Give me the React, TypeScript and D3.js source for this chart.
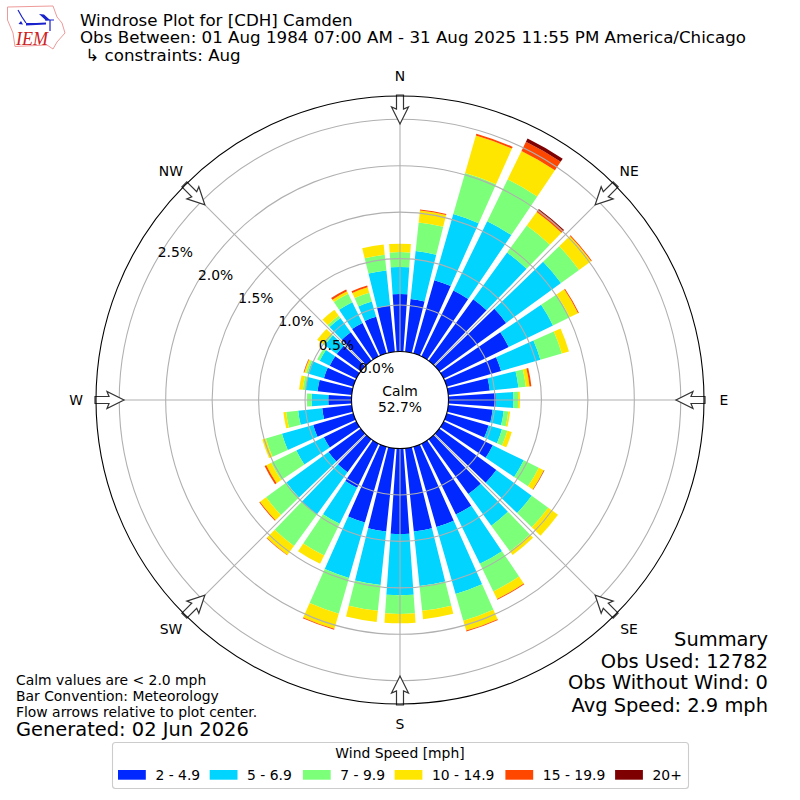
import * as React from 'react';
import * as d3 from 'd3';

const directions = d3.range(0, 360, 10);
// percent of observations per direction, 0..350 deg
const speed2to5 = [.62, .57, .82, .79, .82, .89, .78, .61, .45, .51, .48, .47, .59, .76, .73, .85, .90, .90, .92, .90, .85, .53, .44, .43, .39, .45, .32, .25, .37, .33, .32, .32, .38, .40, .41, .50];
const speed5to7 = [.29, .52, .74, .83, .62, .73, .53, .44, .31, .19, .12, .15, .37, .47, .42, .59, .75, .59, .66, .58, .62, .43, .56, .56, .33, .35, .26, .18, .13, .18, .12, .16, .19, .25, .17, .38];
const speed7to10 = [.16, .31, .46, .50, .36, .24, .20, .24, .08, .05, .05, .06, .18, .22, .34, .33, .30, .27, .20, .28, .40, .38, .42, .27, .30, .18, .13, .05, .03, .02, .03, .02, .03, .10, .10, .17];
const speed10to15 = [.09, .13, .42, .34, .18, .16, .10, .08, .04, .02, .02, .05, .06, .13, .05, .09, .11, .09, .10, .12, .17, .10, .12, .08, .06, .04, .03, 0, .04, .02, 0, .08, .08, .03, .06, .11];
const speed15to20 = [0, .01, .02, .11, .03, .01, .01, 0, .02, 0, 0, 0, .005, 0, 0, .01, .01, 0, 0, 0, .01, 0, .005, .01, .02, 0, 0, 0, 0, .005, 0, 0, 0, .02, .02, 0];
const speed20up = [0, 0, 0, .04, .01, 0, 0, 0, 0, 0, 0, 0, .002, 0, 0, 0, 0, 0, 0, 0, 0, 0, 0, 0, 0, 0, 0, 0, 0, .002, 0, 0, 0, .002, 0, 0];

const speedSeries = [speed2to5, speed5to7, speed7to10, speed10to15, speed15to20, speed20up];
const speedLabels = ['2 - 4.9', '5 - 6.9', '7 - 9.9', '10 - 14.9', '15 - 19.9', '20+'];
const speedColors = ['#0028ff', '#00d4ff', '#7cff79', '#ffe600', '#ff4700', '#7f0000'];
const legendOffsets = [0, 91.7, 184.9, 276.6, 387.4, 497.1];

const rTicks = [0, 0.5, 1, 1.5, 2, 2.5];
const compass = ['N', 'NE', 'E', 'SE', 'S', 'SW', 'W', 'NW'];
const titleLines = ['Windrose Plot for [CDH] Camden', 'Obs Between: 01 Aug 1984 07:00 AM - 31 Aug 2025 11:55 PM America/Chicago', ' \u21b3 constraints: Aug'];
const summaryLines = ['Summary', 'Obs Used: 12782', 'Obs Without Wind: 0', 'Avg Speed: 2.9 mph'];
const noteLines = ['Calm values are < 2.0 mph', 'Bar Convention: Meteorology', 'Flow arrows relative to plot center.'];

const FONT = '"DejaVu Sans", sans-serif';

function App() {
    const ref = React.useRef<SVGSVGElement>(null);

    React.useEffect(() => {
        const svg = d3.select(ref.current);
        svg.selectAll('*').remove();

        const cx = 400, cy = 400;
        const r = d3.scaleLinear().domain([0, 2.75]).range([48.5, 304]);
        const theta = d3.scaleLinear().domain([0, 360]).range([0, 2 * Math.PI]);
        const g = svg.append('g').attr('transform', `translate(${cx},${cy})`);

        const table = directions.map((d, i) => {
            const row: any = { dir: d };
            speedLabels.forEach((s, j) => { row[s] = speedSeries[j][i]; });
            return row;
        });
        const stacked = d3.stack().keys(speedLabels)(table);
        const halfWidth = theta(4);
        const arc = d3.arc();

        stacked.forEach((layer: any, j: number) => {
            g.append('g').selectAll('path')
                .data(layer.filter((d: any) => d[1] > d[0]))
                .enter()
                .append('path')
                .attr('fill', speedColors[j])
                .attr('d', (d: any) => arc({
                    innerRadius: r(d[0]),
                    outerRadius: r(d[1]),
                    startAngle: theta(d.data.dir) - halfWidth,
                    endAngle: theta(d.data.dir) + halfWidth,
                } as any));
        });

        // grid
        const grey = '#b0b0b0';
        g.append('g').selectAll('circle')
            .data(rTicks.slice(1))
            .enter()
            .append('circle')
            .attr('r', d => r(d))
            .attr('fill', 'none')
            .attr('stroke', grey)
            .attr('stroke-width', 1.1);

        const spokes = compass.map((c, i) => i * 45);
        g.append('g').selectAll('line')
            .data(spokes)
            .enter()
            .append('line')
            .attr('x1', d => r(0) * Math.sin(theta(d)))
            .attr('y1', d => -r(0) * Math.cos(theta(d)))
            .attr('x2', d => r.range()[1] * Math.sin(theta(d)))
            .attr('y2', d => -r.range()[1] * Math.cos(theta(d)))
            .attr('stroke', grey)
            .attr('stroke-width', 1.1);

        // flow arrows, drawn pointing at the center from the N position
        const R = r.range()[1];
        const arrowShape = d3.line()([
            [-3.5, -R - 1], [3.5, -R - 1], [3.5, -R + 13], [8.5, -R + 11], [0, -R + 28],
            [-8.5, -R + 11], [-3.5, -R + 13],
        ] as any) + 'Z';
        g.append('g').selectAll('path')
            .data(spokes)
            .enter()
            .append('path')
            .attr('d', arrowShape)
            .attr('transform', d => `rotate(${d})`)
            .attr('fill', 'white')
            .attr('stroke', '#333')
            .attr('stroke-width', 1.2);

        // frame
        g.append('circle').attr('r', R).attr('fill', 'none').attr('stroke', 'black').attr('stroke-width', 1.1);
        g.append('circle').attr('r', r(0)).attr('fill', 'white').attr('stroke', 'black').attr('stroke-width', 1.1);

        const labelText = (sel: any, size: number) => sel.style('font-family', FONT).style('font-size', size + 'px').attr('fill', 'black');

        // compass labels
        labelText(g.append('g').selectAll('text')
            .data(compass)
            .enter()
            .append('text')
            .attr('x', (d: string, i: number) => 324 * Math.sin(theta(i * 45)))
            .attr('y', (d: string, i: number) => -324 * Math.cos(theta(i * 45)))
            .attr('dy', '0.36em')
            .attr('text-anchor', 'middle')
            .text((d: string) => d), 13.9);

        // radial labels along -60 deg, nudged off the spoke
        labelText(g.append('g').selectAll('text')
            .data(rTicks)
            .enter()
            .append('text')
            .attr('x', (d: number) => r(d) * Math.sin(theta(-60)) + 18.5)
            .attr('y', (d: number) => -r(d) * Math.cos(theta(-60)) - 8)
            .attr('dy', '0.36em')
            .attr('text-anchor', 'middle')
            .text((d: number) => d.toFixed(1) + '%'), 13.9);

        labelText(g.append('text').attr('y', -4.5).attr('text-anchor', 'middle').text('Calm'), 13.9);
        labelText(g.append('text').attr('y', 12).attr('text-anchor', 'middle').text('52.7%'), 13.9);

        // title
        const titleY = [26, 43, 61];
        titleLines.forEach((t, i) => {
            labelText(svg.append('text').attr('x', 80).attr('y', titleY[i]).attr('xml:space', 'preserve').style('white-space', 'pre').text(t), 15.28 * 666 / 610);
        });

        // summary
        const summaryY = [646, 668, 689, 712];
        summaryLines.forEach((t, i) => {
            labelText(svg.append('text').attr('x', 768).attr('y', summaryY[i]).attr('text-anchor', 'end').text(t), 19.44);
        });

        // notes
        const noteY = [685, 701, 717];
        noteLines.forEach((t, i) => {
            labelText(svg.append('text').attr('x', 16).attr('y', noteY[i]).text(t), 13.9);
        });
        labelText(svg.append('text').attr('x', 16).attr('y', 736).text('Generated: 02 Jun 2026'), 19.44);

        // legend
        const legend = svg.append('g');
        legend.append('rect').attr('x', 112.5).attr('y', 742.5).attr('width', 576).attr('height', 46)
            .attr('rx', 3).attr('fill', 'white').attr('stroke', '#ccc').attr('stroke-width', 1.1);
        labelText(legend.append('text').attr('x', 400).attr('y', 758).attr('text-anchor', 'middle').text('Wind Speed [mph]'), 13.9);
        speedLabels.forEach((s, i) => {
            legend.append('rect').attr('x', 118 + legendOffsets[i]).attr('y', 770).attr('width', 27.8).attr('height', 9.7).attr('fill', speedColors[i]);
            labelText(legend.append('text').attr('x', 155.4 + legendOffsets[i]).attr('y', 780).text(s), 13.9);
        });

        // IEM logo
        const logo = svg.append('g');
        const outline: any = [[7.5, 7], [53, 6], [57, 17], [62, 23], [65, 33], [57, 42], [53, 49], [47, 45], [15, 46.5], [13, 33], [7.5, 20]];
        logo.append('path').attr('d', d3.line()(outline) + 'Z').attr('fill', 'white').attr('stroke', '#ee9a9a').attr('stroke-width', 1);
        logo.append('path').attr('d', 'M26 23.5L46 23.5M45 20L54 20M50 20L50 31M18 10L22 17L26 23').attr('fill', 'none').attr('stroke', '#1a22cc').attr('stroke-width', 1.2);
        logo.append('path').attr('d', 'M26 23.5L46 22.5L46 24.5L26 25.5Z M39 14L44 14.5L50 20L46 20.5Z M18.5 24L21 21L23 24.5Z').attr('fill', '#1a22cc');
        logo.append('text').attr('x', 16).attr('y', 44.5).style('font-family', '"Liberation Serif", serif').style('font-style', 'italic').style('font-size', '18px').attr('fill', '#cc2222').text('IEM');
    }, []);

    return (
        <svg ref={ref} width={800} height={800} style={{ position: 'absolute', left: 0, top: 0 }} />
    );
}

export default App;
